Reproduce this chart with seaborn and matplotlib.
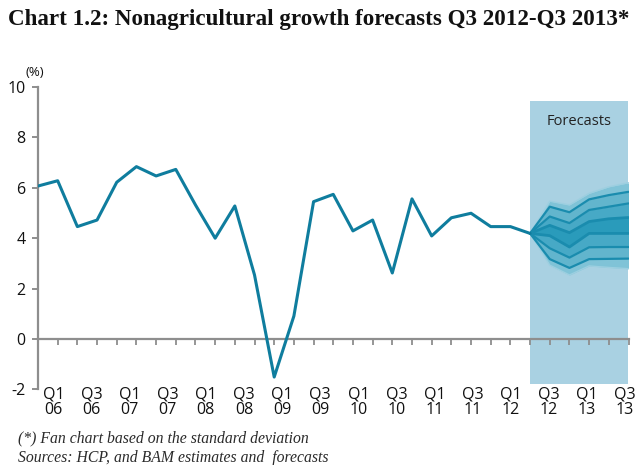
import numpy as np
import pandas as pd
import matplotlib
matplotlib.use("Agg")
import matplotlib.pyplot as plt
import seaborn as sns

# Quarterly nonagricultural GDP growth (%), Q1 2006 - Q2 2012
growth = [6.07, 6.28, 4.46, 4.72, 6.22, 6.84, 6.47, 6.73, 5.32, 4.00,
          5.28, 2.54, -1.51, 0.91, 5.45, 5.74, 4.29, 4.72, 2.62, 5.56,
          4.09, 4.81, 4.99, 4.46, 4.46, 4.19]

# Fan chart bounds, Q2 2012 (anchor) to Q3 2013, from the outer upper edge to the outer lower edge
fan_u3 = [4.19, 5.47, 5.32, 5.78, 6.04, 6.20]
fan_u2 = [4.19, 5.25, 5.03, 5.54, 5.71, 5.84]
fan_u1 = [4.19, 4.86, 4.60, 5.12, 5.25, 5.38]
fan_c_hi = [4.19, 4.51, 4.22, 4.66, 4.77, 4.82]
fan_c_lo = [4.19, 4.10, 3.65, 4.19, 4.19, 4.19]
fan_l1 = [4.19, 3.60, 3.23, 3.64, 3.65, 3.65]
fan_l2 = [4.19, 3.17, 2.82, 3.17, 3.18, 3.19]
fan_l3 = [4.19, 2.93, 2.54, 2.90, 2.84, 2.79]

quarter_labels = ["Q1\n06", "Q3\n06", "Q1\n07", "Q3\n07", "Q1\n08", "Q3\n08",
                  "Q1\n09", "Q3\n09", "Q1\n10", "Q3\n10", "Q1\n11", "Q3\n11",
                  "Q1\n12", "Q3\n12", "Q1\n13", "Q3\n13"]

sns.set_theme(style="white")
plt.rcParams["font.family"] = ["Open Sans", "DejaVu Sans"]

LINE = "#0F7D9E"
GREY = "#8E8E8E"
SHADE = "#A9D1E2"
SERIF = ["Liberation Serif", "DejaVu Serif"]

fig = plt.figure(figsize=(6.36, 4.65), dpi=100)
ax = fig.add_axes([38 / 636, 1 - 389.4 / 465, 590.5 / 636, 302.4 / 465])

n_hist = len(growth)
hist = pd.DataFrame({"t": np.arange(n_hist), "growth": growth})
fx = np.arange(n_hist - 1, n_hist - 1 + len(fan_u3))
n_total = fx[-1]

# forecast window
ax.axvspan(fx[0], fx[-1], ymin=0.018, ymax=0.954, color=SHADE, lw=0, zorder=0)
ax.text((fx[0] + fx[-1]) / 2, 8.65, "Forecasts", ha="center", va="center",
        fontsize=10.5, color="#222222", zorder=5)

# fan bands, lightest outside to darkest in the centre
bands = [(fan_u3, fan_u2, "#80C3D7"), (fan_u2, fan_u1, "#62B5CD"),
         (fan_u1, fan_c_hi, "#47A9C6"), (fan_c_hi, fan_c_lo, "#2A9BBB"),
         (fan_c_lo, fan_l1, "#47A9C6"), (fan_l1, fan_l2, "#62B5CD"),
         (fan_l2, fan_l3, "#80C3D7")]
for hi, lo, c in bands:
    ax.fill_between(fx, lo, hi, color=c, lw=0, zorder=2)
for edge in (fan_u3, fan_l3):
    ax.plot(fx, edge, color="#9CCFE0", lw=1.0, zorder=3)
for ln, w in ((fan_u2, 1.6), (fan_u1, 1.6), (fan_c_hi, 2.0),
              (fan_c_lo, 2.0), (fan_l1, 1.6), (fan_l2, 1.6)):
    ax.plot(fx, ln, color="#1A8CAE", lw=w, zorder=3)

sns.lineplot(data=hist, x="t", y="growth", ax=ax, color=LINE, lw=2.2,
             zorder=4, legend=False)

ax.set_xlim(0, n_total)
ax.set_ylim(-2, 10)
ax.set_xlabel("")
ax.set_ylabel("")

for s in ("top", "right"):
    ax.spines[s].set_visible(False)
ax.spines["left"].set_color(GREY)
ax.spines["left"].set_linewidth(1.6)
ax.spines["bottom"].set_position(("data", 0))
ax.spines["bottom"].set_color(GREY)
ax.spines["bottom"].set_linewidth(1.6)
ax.spines["bottom"].set_zorder(1)

yt = np.arange(-2, 11, 2)
ax.set_yticks(yt)
ax.set_yticklabels([f"{v:d}" for v in yt])
ax.tick_params(axis="y", which="major", direction="out", length=4, width=1.4,
               color=GREY, pad=5, labelsize=11.5, labelcolor="#111111", left=True)

# quarter labels sit below the plot; small ticks mark every quarter on the zero line
ax.set_xticks(np.linspace(0.78, 29.83, len(quarter_labels)))
ax.set_xticklabels(quarter_labels)
ax.set_xticks(np.arange(0, n_total + 1), minor=True)
ax.tick_params(axis="x", which="major", length=0, pad=34, labelsize=11.5,
               labelcolor="#111111", bottom=True)
ax.tick_params(axis="x", which="minor", direction="out", length=4, width=1.3,
               color=GREY, bottom=True)
for lbl in ax.get_xticklabels():
    lbl.set_linespacing(1.0)

fig.text(25 / 636, 1 - 72 / 465, "(%)", ha="left", va="center", fontsize=9.5,
         color="#111111")
fig.text(8 / 636, 1 - 20 / 465,
         "Chart 1.2: Nonagricultural growth forecasts Q3 2012-Q3 2013*",
         ha="left", va="center", fontsize=16.6, fontweight="bold",
         family=SERIF, color="#111111")
fig.text(18 / 636, 1 - 438 / 465, "(*) Fan chart based on the standard deviation",
         ha="left", va="center", fontsize=11.3, style="italic",
         family=SERIF, color="#2a2a2a")
fig.text(18 / 636, 1 - 458 / 465, "Sources: HCP, and BAM estimates and  forecasts",
         ha="left", va="center", fontsize=11.3, style="italic",
         family=SERIF, color="#2a2a2a")

fig.savefig("out.png", dpi=100)
